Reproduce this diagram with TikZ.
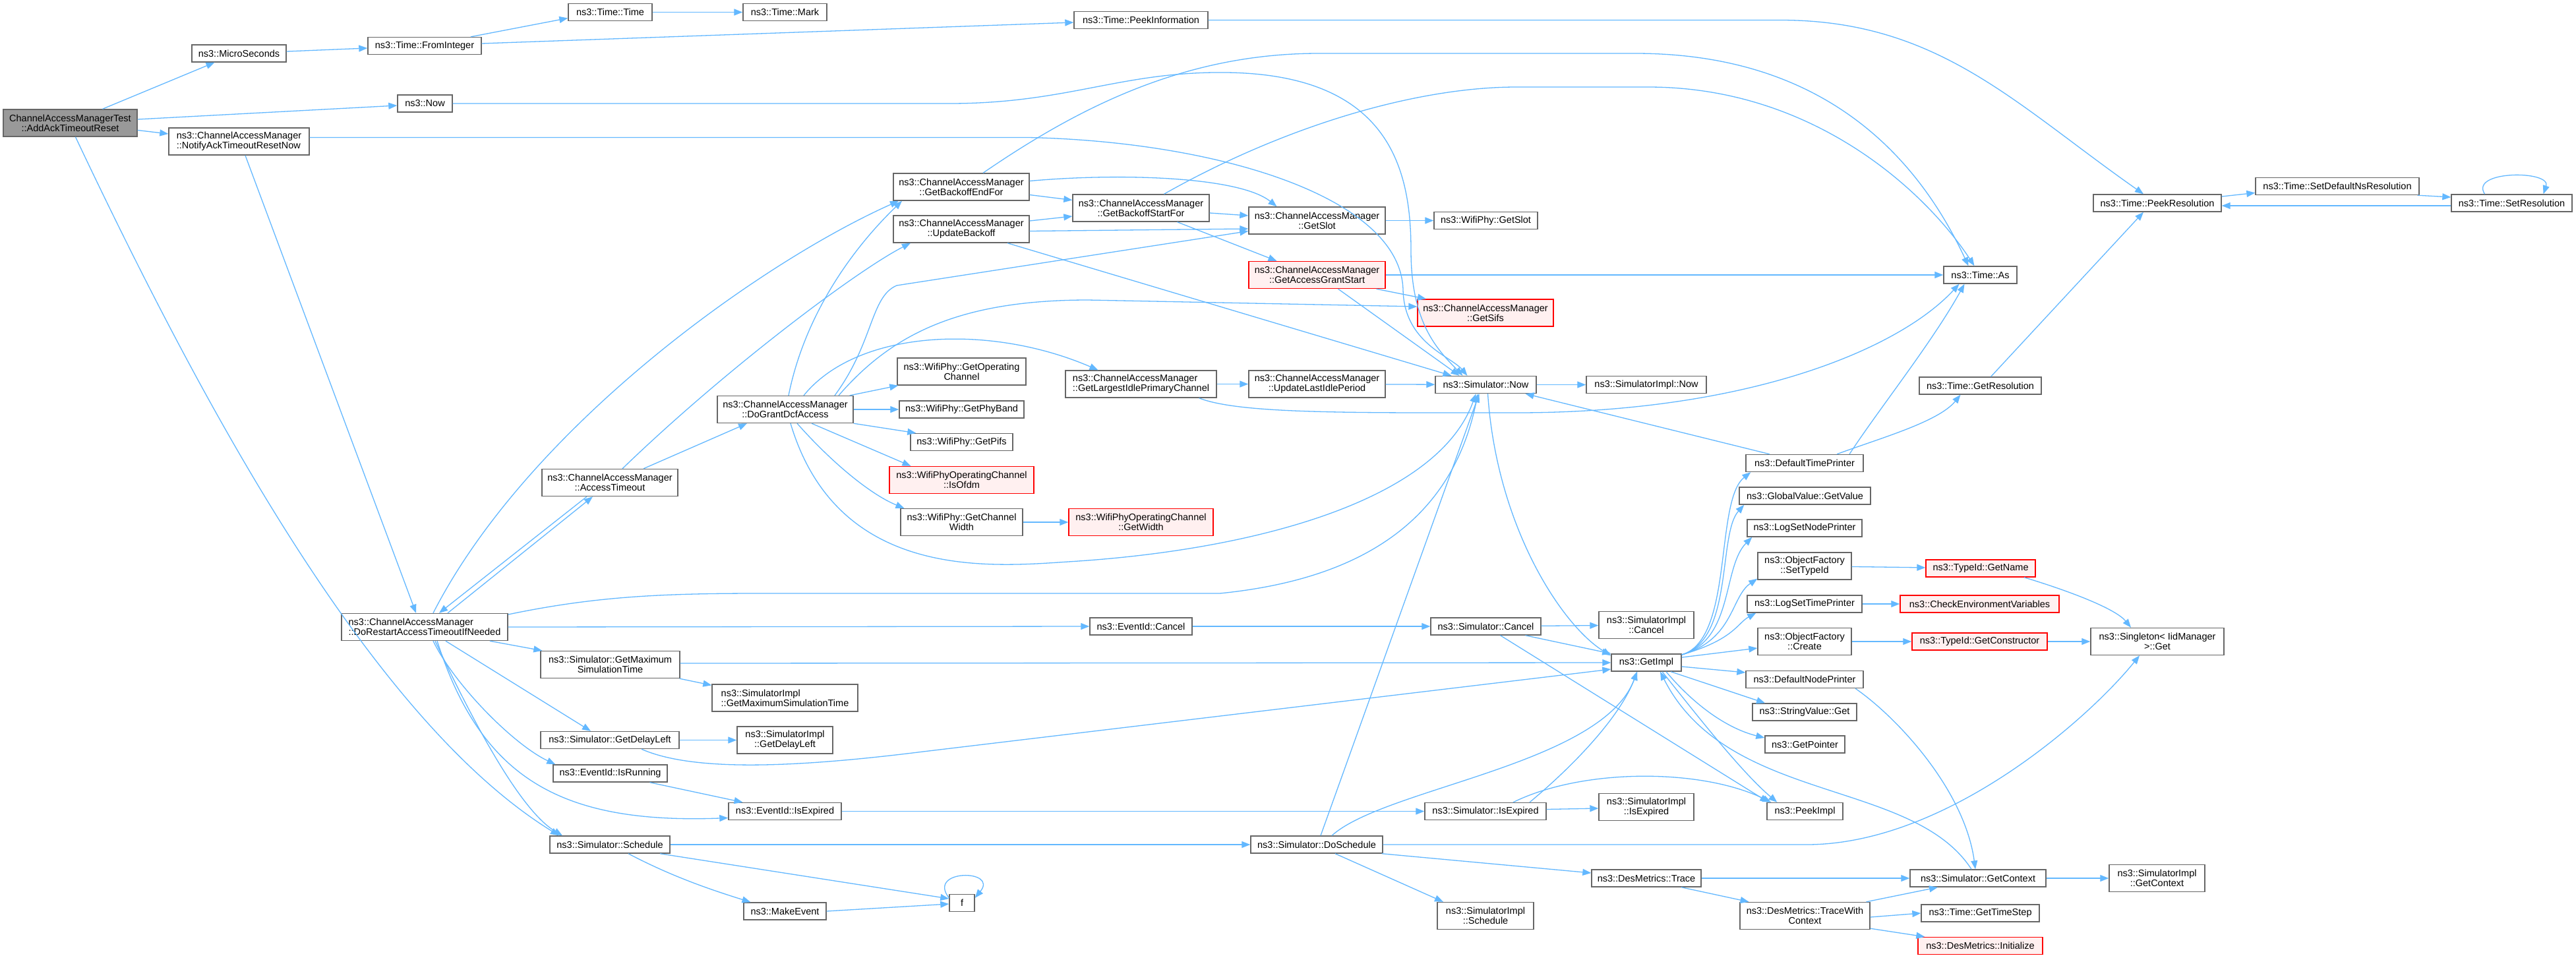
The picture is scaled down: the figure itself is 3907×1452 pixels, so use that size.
\documentclass[tikz,border=0pt]{standalone}
\usepackage{fontspec}
\setmainfont{Liberation Sans}
\usetikzlibrary{arrows.meta}
\definecolor{cCall}{HTML}{63B8FF}
\definecolor{cBorder}{HTML}{666666}
\definecolor{cHot}{HTML}{FF0000}
\definecolor{cHotFill}{HTML}{FFF0F0}
\definecolor{cMain}{HTML}{999999}
\newcommand{\fnfont}{\fontsize{14.5pt}{15pt}\selectfont}
\begin{document}
\begin{tikzpicture}[x=1pt,y=-1pt]
  \tikzstyle{every node}=[rectangle,draw=cBorder,fill=white,line width=1.4pt,font=\fnfont,align=center,inner sep=2pt]
  \tikzstyle{fnbox}=[minimum height=26pt]
  \tikzstyle{fnbox2}=[minimum height=41pt]
  \tikzstyle{fnhot}=[draw=cHot,fill=cHotFill]
  \tikzstyle{fnmain}=[fill=cMain]
  \tikzstyle{call}=[draw=cCall,line width=1.3pt,-{Triangle[length=13pt,width=10pt]}]
  \fill[white] (0,0) rectangle (3907,1452);
  \useasboundingbox (0,0) rectangle (3907,1452);

  \node[fnbox2,fnmain,minimum width=203pt] (main) at (106.5,186.5) {ChannelAccessManagerTest\\::AddAckTimeoutReset};
  \node[fnbox,minimum width=143pt] (micro) at (362.5,81) {ns3::MicroSeconds};
  \node[fnbox,minimum width=172pt] (fromint) at (644,69.5) {ns3::Time::FromInteger};
  \node[fnbox,minimum width=127pt] (timeCtor) at (925.5,18.5) {ns3::Time::Time};
  \node[fnbox,minimum width=127pt] (mark) at (1190.5,18.5) {ns3::Time::Mark};
  \node[fnbox,minimum width=203pt] (peekInfo) at (1730.5,30.5) {ns3::Time::PeekInformation};
  \node[fnbox,minimum width=83pt] (now) at (644.5,157) {ns3::Now};
  \node[fnbox2,align=left,minimum width=213pt] (notify) at (362.5,214.5) {ns3::ChannelAccessManager\\::NotifyAckTimeoutResetNow};
  \node[fnbox2,align=left,minimum width=252pt] (doRestart) at (644,951) {ns3::ChannelAccessManager\\::DoRestartAccessTimeoutIfNeeded};
  \node[fnbox2,minimum width=206pt] (accessTimeout) at (925,732) {ns3::ChannelAccessManager\\::AccessTimeout};
  \node[fnbox2,minimum width=211pt] (getMaxSim) at (925.5,1008) {ns3::Simulator::GetMaximum\\SimulationTime};
  \node[fnbox,minimum width=210pt] (getDelayLeft) at (925,1122.5) {ns3::Simulator::GetDelayLeft};
  \node[fnbox,minimum width=173pt] (isRunning) at (925.5,1173) {ns3::EventId::IsRunning};
  \node[fnbox,minimum width=182pt] (schedule) at (925,1281) {ns3::Simulator::Schedule};
  \node[fnbox2,minimum width=206pt] (backoffEnd) at (1458,283.5) {ns3::ChannelAccessManager\\::GetBackoffEndFor};
  \node[fnbox2,minimum width=206pt] (updateBackoff) at (1458,347.5) {ns3::ChannelAccessManager\\::UpdateBackoff};
  \node[fnbox2,minimum width=207pt] (backoffStart) at (1730.5,315.5) {ns3::ChannelAccessManager\\::GetBackoffStartFor};
  \node[fnbox2,minimum width=206pt] (doGrant) at (1191,621) {ns3::ChannelAccessManager\\::DoGrantDcfAccess};
  \node[fnbox2,minimum width=195pt] (getOpChan) at (1458.5,563.5) {ns3::WifiPhy::GetOperating\\Channel};
  \node[fnbox,minimum width=189pt] (getPhyBand) at (1458.5,621) {ns3::WifiPhy::GetPhyBand};
  \node[fnbox,minimum width=155pt] (getPifs) at (1458.5,670.5) {ns3::WifiPhy::GetPifs};
  \node[fnbox2,fnhot,minimum width=219pt] (isOfdm) at (1458.5,728) {ns3::WifiPhyOperatingChannel\\::IsOfdm};
  \node[fnbox2,minimum width=185pt] (getChanWidth) at (1458.5,792) {ns3::WifiPhy::GetChannel\\Width};
  \node[fnbox2,fnhot,minimum width=219pt] (getWidth) at (1730.5,792) {ns3::WifiPhyOperatingChannel\\::GetWidth};
  \node[fnbox2,align=left,minimum width=229pt] (largestIdle) at (1730.5,582.5) {ns3::ChannelAccessManager\\::GetLargestIdlePrimaryChannel};
  \node[fnbox2,minimum width=207pt] (updLastIdle) at (1997.5,582.5) {ns3::ChannelAccessManager\\::UpdateLastIdlePeriod};
  \node[fnbox,minimum width=155pt] (evCancel) at (1730.5,950) {ns3::EventId::Cancel};
  \node[fnbox2,align=left,minimum width=221pt] (simImplMaxSim) at (1190.5,1058.5) {ns3::SimulatorImpl\\::GetMaximumSimulationTime};
  \node[fnbox2,minimum width=145pt] (simImplDelay) at (1190.5,1122.5) {ns3::SimulatorImpl\\::GetDelayLeft};
  \node[fnbox,minimum width=171pt] (evIsExpired) at (1190.5,1230.5) {ns3::EventId::IsExpired};
  \node[fnbox,minimum width=125pt] (makeEvent) at (1190.5,1382) {ns3::MakeEvent};
  \node[fnbox,minimum width=38pt] (f) at (1459,1369.5) {f};
  \node[fnbox2,minimum width=207pt] (getSlot) at (1997.5,334.5) {ns3::ChannelAccessManager\\::GetSlot};
  \node[fnbox,minimum width=157pt] (phyGetSlot) at (2253.5,334.5) {ns3::WifiPhy::GetSlot};
  \node[fnbox2,fnhot,minimum width=207pt] (grantStart) at (1997.5,417) {ns3::ChannelAccessManager\\::GetAccessGrantStart};
  \node[fnbox2,fnhot,minimum width=206pt] (getSifs) at (2253,474.5) {ns3::ChannelAccessManager\\::GetSifs};
  \node[fnbox,minimum width=153pt] (simNow) at (2253.5,583.5) {ns3::Simulator::Now};
  \node[fnbox,minimum width=182pt] (simImplNow) at (2497,583.5) {ns3::SimulatorImpl::Now};
  \node[fnbox,minimum width=178pt] (defTimePrinter) at (2737,702.5) {ns3::DefaultTimePrinter};
  \node[fnbox,minimum width=199pt] (globalGetValue) at (2737.5,752) {ns3::GlobalValue::GetValue};
  \node[fnbox,minimum width=174pt] (logSetNode) at (2737,801) {ns3::LogSetNodePrinter};
  \node[fnbox2,minimum width=142pt] (ofSetTypeId) at (2737,858.5) {ns3::ObjectFactory\\::SetTypeId};
  \node[fnbox,minimum width=174pt] (logSetTime) at (2737,916) {ns3::LogSetTimePrinter};
  \node[fnbox2,minimum width=142pt] (ofCreate) at (2737,973) {ns3::ObjectFactory\\::Create};
  \node[fnbox,minimum width=167pt] (simCancel) at (2253.5,950) {ns3::Simulator::Cancel};
  \node[fnbox2,minimum width=144pt] (simImplCancel) at (2497,948) {ns3::SimulatorImpl\\::Cancel};
  \node[fnbox,minimum width=106pt] (getImpl) at (2497,1005) {ns3::GetImpl};
  \node[fnbox,minimum width=178pt] (defNodePrinter) at (2737,1030.5) {ns3::DefaultNodePrinter};
  \node[fnbox,minimum width=158pt] (strGet) at (2737,1080) {ns3::StringValue::Get};
  \node[fnbox,minimum width=121pt] (getPointer) at (2737.5,1129) {ns3::GetPointer};
  \node[fnbox,minimum width=115pt] (peekImpl) at (2737.5,1230.5) {ns3::PeekImpl};
  \node[fnbox,minimum width=184pt] (simIsExpired) at (2253,1230.5) {ns3::Simulator::IsExpired};
  \node[fnbox2,minimum width=144pt] (simImplIsExpired) at (2497,1224) {ns3::SimulatorImpl\\::IsExpired};
  \node[fnbox,minimum width=200pt] (doSchedule) at (1997,1281) {ns3::Simulator::DoSchedule};
  \node[fnbox,minimum width=166pt] (desTrace) at (2497,1332) {ns3::DesMetrics::Trace};
  \node[fnbox2,minimum width=146pt] (simImplSchedule) at (2253,1389) {ns3::SimulatorImpl\\::Schedule};
  \node[fnbox2,minimum width=197pt] (traceWithCtx) at (2737.5,1389) {ns3::DesMetrics::TraceWith\\Context};
  \node[fnbox,minimum width=111pt] (timeAs) at (3003.5,417) {ns3::Time::As};
  \node[fnbox,minimum width=194pt] (peekRes) at (3272,308) {ns3::Time::PeekResolution};
  \node[fnbox,minimum width=248pt] (setDefNs) at (3545,282.5) {ns3::Time::SetDefaultNsResolution};
  \node[fnbox,minimum width=183pt] (setRes) at (3809.5,308) {ns3::Time::SetResolution};
  \node[fnbox,minimum width=185pt] (getRes) at (3003.5,585) {ns3::Time::GetResolution};
  \node[fnbox,fnhot,minimum width=166pt] (typeGetName) at (3004,862) {ns3::TypeId::GetName};
  \node[fnbox,fnhot,minimum width=241pt] (checkEnv) at (3002.5,916) {ns3::CheckEnvironmentVariables};
  \node[fnbox,fnhot,minimum width=205pt] (getCtor) at (3002.5,973) {ns3::TypeId::GetConstructor};
  \node[fnbox2,minimum width=202pt] (singleton) at (3272,973) {ns3::Singleton< IidManager\\ >::Get};
  \node[fnbox,minimum width=206pt] (simGetCtx) at (3000,1332) {ns3::Simulator::GetContext};
  \node[fnbox2,minimum width=145pt] (simImplGetCtx) at (3271.5,1332) {ns3::SimulatorImpl\\::GetContext};
  \node[fnbox,minimum width=179pt] (getTimeStep) at (3003.5,1385) {ns3::Time::GetTimeStep};
  \node[fnbox,fnhot,minimum width=189pt] (desInit) at (3003.5,1434.5) {ns3::DesMetrics::Initialize};

  \draw[call] ([xshift=49]main.north) -- ([xshift=-37]micro.south);
  \draw[call] ([yshift=5.5]main.east) -- ([yshift=-3]now.west);
  \draw[call] ([yshift=-11]main.east) -- ([yshift=11.5]notify.west);
  \draw[call] ([xshift=8]main.south) .. controls (300,600) and (560,1090) .. ([xshift=-77]schedule.north);
  \draw[call] ([yshift=3]micro.east) -- ([yshift=-3.5]fromint.west);
  \draw[call] ([xshift=70]fromint.north) -- ([yshift=-9]timeCtor.west);
  \draw[call] ([yshift=3.5]fromint.east) -- ([yshift=-3.5]peekInfo.west);
  \draw[call] (timeCtor) -- (mark);
  \draw[call] (peekInfo.east) -- (2700,30.5) to[out=0,in=145] ([xshift=-21]peekRes.north);
  \draw[call] (now.east) -- (1440,157) .. controls (1620,157) and (1700,108) .. (1860,110) .. controls (2110,113) and (2140,260) .. (2140,380) .. controls (2140,490) and (2180,530) .. ([xshift=-35]simNow.north);
  \draw[call] ([yshift=6]notify.east) -- (1560,208.5) .. controls (1850,215) and (2125,300) .. (2128,440) .. controls (2130,520) and (2200,540) .. ([xshift=-28]simNow.north);
  \draw[call] ([xshift=9.5]notify.south) -- ([xshift=-13]doRestart.north);
  \draw[call] ([xshift=13]doRestart.north) .. controls (800,650) and (1150,400) .. ([xshift=-95]backoffEnd.south);
  \draw[call] ([xshift=-35]accessTimeout.south) -- ([xshift=22]doRestart.north);
  \draw[call] ([xshift=35]doRestart.north) -- ([xshift=-26]accessTimeout.south);
  \draw[call] ([xshift=19]accessTimeout.north) .. controls (1100,560) and (1300,410) .. ([xshift=-77]updateBackoff.south);
  \draw[call] ([xshift=51]accessTimeout.north) -- ([xshift=-58]doGrant.south);
  \draw[call] ([xshift=99]doRestart.south) -- ([xshift=3]getMaxSim.north west);
  \draw[call] (doRestart.east) -- (evCancel.west);
  \draw[call] ([yshift=19]doRestart.east) .. controls (900,905) and (1000,900) .. (1150,900) -- (1850,900) .. controls (2050,880) and (2200,800) .. ([xshift=-12]simNow.south);
  \draw[call] ([xshift=32]doRestart.south) -- ([xshift=-29]getDelayLeft.north);
  \draw[call] ([xshift=13]doRestart.south) .. controls (690,1040) and (780,1130) .. ([xshift=4]isRunning.north west);
  \draw[call] ([xshift=16]doRestart.south) .. controls (720,1100) and (790,1230) .. ([xshift=-72]schedule.north);
  \draw[call] ([xshift=19]doRestart.south) .. controls (730,1180) and (850,1250) .. ([yshift=-10]evIsExpired.west);
  \draw[call] ([yshift=2]getMaxSim.east) -- (getImpl.west);
  \draw[call] ([xshift=-1]getMaxSim.south east) -- ([yshift=-2]simImplMaxSim.north west);
  \draw[call] (getDelayLeft) -- (simImplDelay);
  \draw[call] ([xshift=48]getDelayLeft.south) .. controls (1050,1170) and (1200,1165) .. (1400,1140) -- ([yshift=-10]getImpl.west);
  \draw[call] ([xshift=60]isRunning.south) -- ([xshift=-64]evIsExpired.north);
  \draw[call] (evIsExpired) -- (simIsExpired);
  \draw[call] (schedule) -- (doSchedule);
  \draw[call] ([xshift=28]schedule.south) .. controls (1020,1330) and (1080,1350) .. ([xshift=-52]makeEvent.north);
  \draw[call] ([xshift=76]schedule.south) -- ([yshift=6.5]f.west);
  \draw[call] (makeEvent.east) -- ([yshift=-1.5]f.west);
  \draw[call] ([yshift=-6]f.north west) .. controls (1405,1318) and (1515,1318) .. ([yshift=-6]f.north east);
  \draw[call] ([xshift=6]doSchedule.north) -- ([xshift=-10]simNow.south);
  \draw[call] ([xshift=23]doSchedule.north) .. controls (2100,1195) and (2430,1160) .. ([xshift=-14]getImpl.south);
  \draw[call] ([xshift=-2]doSchedule.south east) -- ([yshift=8]desTrace.west);
  \draw[call] ([xshift=28]doSchedule.south) -- ([xshift=-64]simImplSchedule.north);
  \draw[call] (doSchedule.east) -- (2740,1281) .. controls (2950,1281) and (3165,1093) .. ([xshift=-27]singleton.south);
  \draw[call] (desTrace) -- (simGetCtx);
  \draw[call] ([xshift=53]desTrace.south) -- ([xshift=-85]traceWithCtx.north);
  \draw[call] ([xshift=93]traceWithCtx.north) -- ([xshift=-61]simGetCtx.south);
  \draw[call] ([yshift=-2]traceWithCtx.east) -- (getTimeStep.west);
  \draw[call] ([yshift=2]traceWithCtx.south east) -- ([xshift=11]desInit.north west);
  \draw[call] (simGetCtx) -- (simImplGetCtx);
  \draw[call] ([xshift=-10]simGetCtx.north) .. controls (2900,1180) and (2620,1220) .. ([xshift=21]getImpl.south);
  \draw[call] ([xshift=77]defNodePrinter.south) .. controls (2880,1090) and (2980,1200) .. ([xshift=-4]simGetCtx.north);
  \draw[call] (simCancel) -- (simImplCancel);
  \draw[call] ([xshift=60]simCancel.south) -- (getImpl.north west);
  \draw[call] ([xshift=22]simCancel.south) -- ([xshift=3]peekImpl.north west);
  \draw[call] (evCancel) -- (simCancel);
  \draw[call] (simNow) -- (simImplNow);
  \draw[call] ([xshift=3]simNow.south) .. controls (2270,800) and (2370,950) .. ([yshift=-3]getImpl.north west);
  \draw[call] ([yshift=3]simIsExpired.east) -- ([yshift=-2]simImplIsExpired.west);
  \draw[call] ([xshift=67]simIsExpired.north) .. controls (2400,1150) and (2460,1080) .. ([xshift=-14]getImpl.south);
  \draw[call] ([xshift=42]simIsExpired.north) .. controls (2400,1165) and (2580,1165) .. ([xshift=7]peekImpl.north west);
  \draw[call] ([xshift=24]getImpl.south) .. controls (2570,1080) and (2640,1170) .. ([xshift=16]peekImpl.north west);
  \draw[call] ([yshift=12]getImpl.east) .. controls (2630,970) and (2600,760) .. ([xshift=8]defTimePrinter.south west);
  \draw[call] ([yshift=12]getImpl.east) .. controls (2630,970) and (2605,810) .. ([xshift=8]globalGetValue.south west);
  \draw[call] ([yshift=12]getImpl.east) .. controls (2630,970) and (2612,860) .. ([xshift=8]logSetNode.south west);
  \draw[call] ([yshift=12]getImpl.east) .. controls (2630,970) and (2625,905) .. ([yshift=2]ofSetTypeId.south west);
  \draw[call] ([yshift=12]getImpl.east) .. controls (2630,970) and (2635,945) .. ([xshift=14]logSetTime.south west);
  \draw[call] ([yshift=8]getImpl.east) -- ([yshift=-10]ofCreate.west);
  \draw[call] ([yshift=-6]getImpl.east) -- ([yshift=10.5]defNodePrinter.west);
  \draw[call] ([xshift=37]getImpl.south) -- ([xshift=-60]strGet.north);
  \draw[call] ([xshift=30]getImpl.south) .. controls (2570,1070) and (2620,1105) .. ([yshift=10]getPointer.west);
  \draw[call] (ofSetTypeId) -- (typeGetName);
  \draw[call] (logSetTime) -- (checkEnv);
  \draw[call] (ofCreate) -- (getCtor);
  \draw[call] ([xshift=66]typeGetName.south) .. controls (3150,900) and (3210,925) .. ([xshift=-40]singleton.north);
  \draw[call] (getCtor) -- (singleton);
  \draw[call] ([xshift=-53]defTimePrinter.north) -- ([xshift=60]simNow.south);
  \draw[call] ([xshift=68]defTimePrinter.north) .. controls (2850,620) and (2930,520) .. ([xshift=-24]timeAs.south);
  \draw[call] ([xshift=49]defTimePrinter.north) .. controls (2850,665) and (2940,640) .. ([xshift=-30]getRes.south);
  \draw[call] ([xshift=88]largestIdle.south) .. controls (1880,628) and (2050,626) .. (2300,626) .. controls (2650,626) and (2880,530) .. ([xshift=-32]timeAs.south);
  \draw[call] (largestIdle) -- (updLastIdle);
  \draw[call] (updLastIdle) -- (simNow);
  \draw[call] ([xshift=16]getRes.north) -- ([xshift=-21]peekRes.south);
  \draw[call] ([yshift=10]peekRes.east) -- ([yshift=-10]setDefNs.west);
  \draw[call] ([xshift=-3]setDefNs.south east) -- ([yshift=9]setRes.west);
  \draw[call] ([yshift=-4]setRes.west) -- ([yshift=-4]peekRes.east);
  \draw[call] ([xshift=-41]setRes.north) .. controls (3745,258) and (3870,258) .. ([xshift=48]setRes.north);
  \draw[call] ([yshift=-12]backoffEnd.east) -- ([yshift=12]backoffStart.west);
  \draw[call] ([yshift=9]backoffEnd.east) .. controls (1700,262) and (1880,268) .. ([xshift=-61]getSlot.north);
  \draw[call] ([xshift=33]backoffEnd.north) .. controls (1640,160) and (1800,81) .. (2000,81) -- (2480,81) .. controls (2750,81) and (2900,220) .. ([xshift=-18]timeAs.north);
  \draw[call] ([yshift=-7.5]backoffStart.east) -- ([yshift=7.5]getSlot.west);
  \draw[call] ([xshift=55]backoffStart.south) -- ([xshift=-61]grantStart.north);
  \draw[call] ([xshift=35]backoffStart.north) .. controls (1950,190) and (2150,132) .. (2300,132) -- (2500,132) .. controls (2750,132) and (2920,290) .. ([xshift=-9]timeAs.north);
  \draw[call] ([yshift=12.5]updateBackoff.east) -- ([yshift=-12.5]backoffStart.west);
  \draw[call] ([yshift=-3]updateBackoff.east) -- ([yshift=-12.5]getSlot.west);
  \draw[call] ([xshift=70]updateBackoff.south) -- ([xshift=-52]simNow.north);
  \draw[call] ([xshift=-6]doGrant.north east) -- ([xshift=2]getOpChan.south west);
  \draw[call] (doGrant) -- (getPhyBand);
  \draw[call] (doGrant.south east) -- ([xshift=9]getPifs.north west);
  \draw[call] ([xshift=40]doGrant.south) -- ([xshift=-77]isOfdm.north);
  \draw[call] ([xshift=18]doGrant.south) .. controls (1260,700) and (1320,750) .. ([xshift=-87]getChanWidth.north);
  \draw[call] ([xshift=8]doGrant.south) .. controls (1270,880) and (1500,860) .. (1620,852) .. controls (1900,835) and (2180,760) .. ([xshift=-15]simNow.south);
  \draw[call] ([xshift=28]doGrant.north) .. controls (1300,500) and (1500,490) .. ([xshift=-65]largestIdle.north);
  \draw[call] ([xshift=5]doGrant.north) .. controls (1220,480) and (1290,380) .. ([xshift=-90]backoffEnd.south);
  \draw[call] ([xshift=75]doGrant.north) .. controls (1325,520) and (1320,450) .. (1360,433) -- ([yshift=-16]getSlot.west);
  \draw[call] ([xshift=81]doGrant.north) .. controls (1350,510) and (1450,455) .. (1650,455) -- ([yshift=9.5]getSifs.west);
  \draw[call] (getSlot) -- (phyGetSlot);
  \draw[call] ([xshift=90]grantStart.south) -- ([xshift=-90]getSifs.north);
  \draw[call] ([xshift=32]grantStart.south) -- ([xshift=-40]simNow.north);
  \draw[call] (grantStart) -- (timeAs);
  \draw[call] (getChanWidth) -- (getWidth);
\end{tikzpicture}
\end{document}
